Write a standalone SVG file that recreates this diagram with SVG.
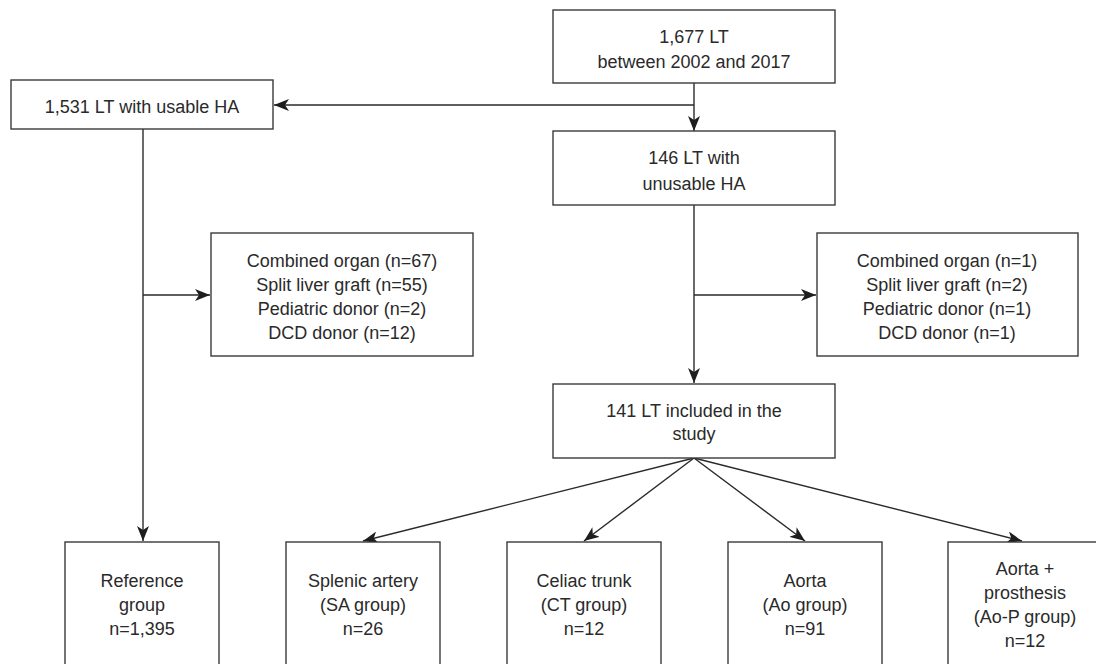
<svg xmlns="http://www.w3.org/2000/svg" width="1096" height="664" viewBox="0 0 1096 664">
<style>
.box{fill:#fff;stroke:#3a3a3a;stroke-width:1.4}
.t{font-family:"Liberation Sans",Arial,Helvetica,sans-serif;font-size:18px;fill:#2a2a2a;text-anchor:middle}
.c{fill:none;stroke:#2a2a2a;stroke-width:1.4}
.a{marker-end:url(#ah)}
</style>
<defs>
<marker id="ah" markerUnits="userSpaceOnUse" markerWidth="16" markerHeight="12" viewBox="0 0 16 12" refX="15" refY="6" orient="auto">
<path d="M0,0 L15,6 L0,12 L4,6 z" fill="#1e1e1e"/>
</marker>
</defs>
<rect width="1096" height="664" fill="#fff"/>
<g id="connectors">
<path class="c" d="M694,83 V105"/>
<path class="c a" d="M694,105 H274"/>
<path class="c a" d="M694,105 V131"/>
<path class="c a" d="M143,129 V541"/>
<path class="c a" d="M143,295 H210"/>
<path class="c a" d="M694,205 V383"/>
<path class="c a" d="M694,295 H816"/>
<path class="c a" d="M694,458 L363,541"/>
<path class="c a" d="M694,458 L584,541"/>
<path class="c a" d="M694,458 L805,541"/>
<path class="c a" d="M694,458 L1022,541"/>
</g>
<g id="n_total">
<rect class="box" x="553" y="10" width="282" height="73"/>
<text class="t" x="694" y="42.5">1,677 LT</text>
<text class="t" x="694" y="67.5">between 2002 and 2017</text>
</g>
<g id="n_usable">
<rect class="box" x="11" y="80" width="262" height="49"/>
<text class="t" x="142" y="112.5">1,531 LT with usable HA</text>
</g>
<g id="n_unusable">
<rect class="box" x="553" y="131" width="282" height="74"/>
<text class="t" x="694" y="163.5">146 LT with</text>
<text class="t" x="694" y="189.5">unusable HA</text>
</g>
<g id="n_excl_left">
<rect class="box" x="211" y="233" width="262" height="123"/>
<text class="t" x="342" y="266.5">Combined organ (n=67)</text>
<text class="t" x="342" y="290.5">Split liver graft (n=55)</text>
<text class="t" x="342" y="314.5">Pediatric donor (n=2)</text>
<text class="t" x="342" y="338.5">DCD donor (n=12)</text>
</g>
<g id="n_excl_right">
<rect class="box" x="817" y="233" width="261" height="123"/>
<text class="t" x="947" y="266.5">Combined organ (n=1)</text>
<text class="t" x="947" y="290.5">Split liver graft (n=2)</text>
<text class="t" x="947" y="314.5">Pediatric donor (n=1)</text>
<text class="t" x="947" y="338.5">DCD donor (n=1)</text>
</g>
<g id="n_included">
<rect class="box" x="553" y="384" width="282" height="74"/>
<text class="t" x="694" y="416.5">141 LT included in the</text>
<text class="t" x="694" y="439.5">study</text>
</g>
<g id="n_ref">
<rect class="box" x="65" y="542" width="154" height="130"/>
<text class="t" x="142" y="586.5">Reference</text>
<text class="t" x="142" y="610.5">group</text>
<text class="t" x="142" y="634.5">n=1,395</text>
</g>
<g id="n_sa">
<rect class="box" x="286" y="542" width="154" height="130"/>
<text class="t" x="363" y="586.5">Splenic artery</text>
<text class="t" x="363" y="610.5">(SA group)</text>
<text class="t" x="363" y="634.5">n=26</text>
</g>
<g id="n_ct">
<rect class="box" x="507" y="542" width="154" height="130"/>
<text class="t" x="584" y="586.5">Celiac trunk</text>
<text class="t" x="584" y="610.5">(CT group)</text>
<text class="t" x="584" y="634.5">n=12</text>
</g>
<g id="n_ao">
<rect class="box" x="728" y="542" width="154" height="130"/>
<text class="t" x="805" y="586.5">Aorta</text>
<text class="t" x="805" y="610.5">(Ao group)</text>
<text class="t" x="805" y="634.5">n=91</text>
</g>
<g id="n_aop">
<rect class="box" x="948" y="542" width="154" height="130"/>
<text class="t" x="1025" y="574.5">Aorta +</text>
<text class="t" x="1025" y="598.5">prosthesis</text>
<text class="t" x="1025" y="623">(Ao-P group)</text>
<text class="t" x="1025" y="646.5">n=12</text>
</g>
</svg>
